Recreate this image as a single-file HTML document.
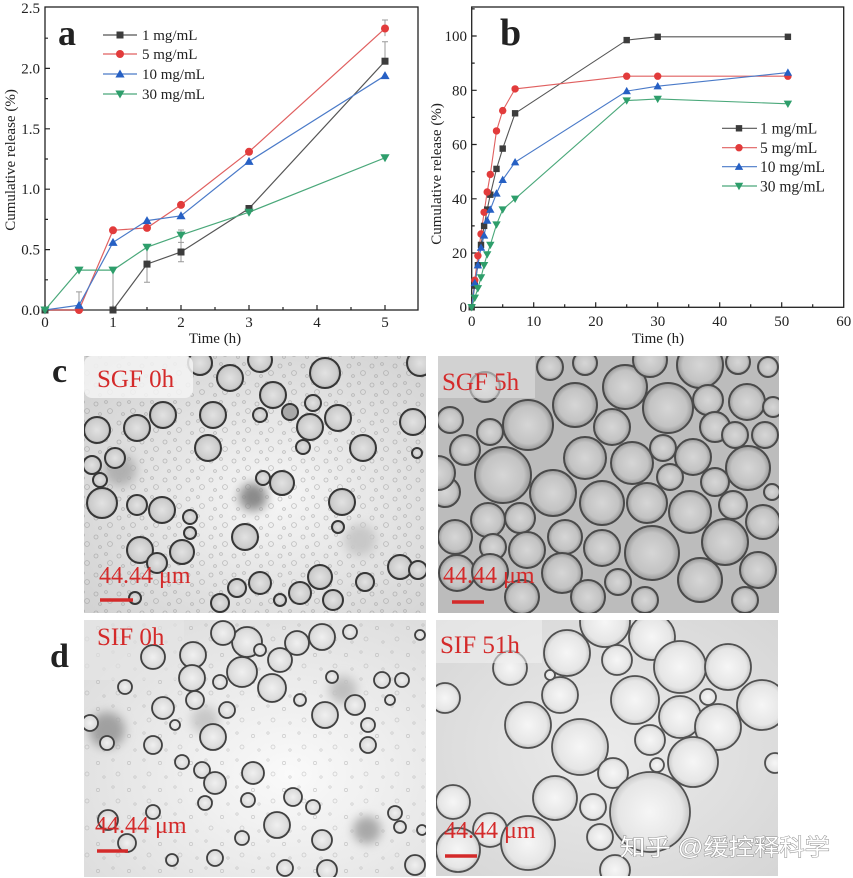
<!DOCTYPE html>
<html><head><meta charset="utf-8"><style>
html,body{margin:0;padding:0;background:#fff;}
svg{display:block;}
.t{font-family:"Liberation Serif",serif;fill:#222;}
.r{font-family:"Liberation Serif",serif;fill:#d42a2a;}
</style></head><body>
<svg width="853" height="878" viewBox="0 0 853 878" xmlns="http://www.w3.org/2000/svg">
<defs>
<rect id="sq" x="-3.5" y="-3.5" width="7" height="7"/>
<circle id="ci" r="4"/>
<path id="tu" d="M0,-4.5 L4.6,3.5 L-4.6,3.5Z"/>
<path id="td" d="M0,4.5 L4.6,-3.5 L-4.6,-3.5Z"/>
<rect id="sqs" x="-3.2" y="-3.2" width="6.4" height="6.4"/>
<circle id="cis" r="3.7"/>
<path id="tus" d="M0,-4.2 L4.2,3.2 L-4.2,3.2Z"/>
<path id="tds" d="M0,4.2 L4.2,-3.2 L-4.2,-3.2Z"/>
<clipPath id="cp1"><rect x="84" y="356" width="342" height="257"/></clipPath>
<clipPath id="cp2"><rect x="438" y="356" width="341" height="257"/></clipPath>
<clipPath id="cp3"><rect x="84" y="620" width="342" height="257"/></clipPath>
<clipPath id="cp4"><rect x="436" y="620" width="342" height="256"/></clipPath>
<radialGradient id="g1"><stop offset="0" stop-color="#e2e2e2"/><stop offset="0.8" stop-color="#cccccc"/><stop offset="1" stop-color="#b0b0b0"/></radialGradient>
<radialGradient id="g2"><stop offset="0" stop-color="#d6d6d6"/><stop offset="0.75" stop-color="#c3c3c3"/><stop offset="1" stop-color="#989898"/></radialGradient>
<radialGradient id="g3"><stop offset="0" stop-color="#f0f0f0"/><stop offset="0.8" stop-color="#dcdcdc"/><stop offset="1" stop-color="#c2c2c2"/></radialGradient>
<radialGradient id="g4"><stop offset="0" stop-color="#f6f6f6"/><stop offset="0.8" stop-color="#e6e6e6"/><stop offset="1" stop-color="#c6c6c6"/></radialGradient>
<radialGradient id="bg1" cx="0.55" cy="0.55" r="0.7"><stop offset="0" stop-color="#f6f6f6"/><stop offset="1" stop-color="#d2d2d2"/></radialGradient>
<radialGradient id="bg3" cx="0.6" cy="0.6" r="0.7"><stop offset="0" stop-color="#fafafa"/><stop offset="1" stop-color="#dedede"/></radialGradient>
<radialGradient id="bg4" cx="0.5" cy="0.5" r="0.7"><stop offset="0" stop-color="#ebebeb"/><stop offset="1" stop-color="#d6d6d6"/></radialGradient>
<pattern id="sp" width="23" height="19" patternUnits="userSpaceOnUse">
<g fill="none" stroke="#8a8a8a" stroke-width="0.8"><circle cx="4" cy="5" r="2"/><circle cx="14" cy="3" r="1.4"/><circle cx="18" cy="12" r="2.4"/><circle cx="8" cy="15" r="1.4"/></g>
</pattern>
<pattern id="sp2" width="31" height="27" patternUnits="userSpaceOnUse">
<g fill="none" stroke="#999" stroke-width="0.7"><circle cx="5" cy="7" r="1.6"/><circle cx="20" cy="4" r="1.2"/><circle cx="25" cy="18" r="2"/><circle cx="11" cy="21" r="1.2"/></g>
</pattern>
<filter id="bl" x="-50%" y="-50%" width="200%" height="200%"><feGaussianBlur stdDeviation="5"/></filter>
</defs>

<!-- ============ Chart a ============ -->
<rect x="45" y="7" width="373" height="303" fill="none" stroke="#222" stroke-width="1.3"/>
<path d="M45,310V305M113,310V305M181,310V305M249,310V305M317,310V305M385,310V305M79,310V307M147,310V307M215,310V307M283,310V307M351,310V307
M45,310H50M45,249.6H50M45,189.2H50M45,128.8H50M45,68.4H50M45,279.8H48M45,219.4H48M45,159H48M45,98.6H48M45,38.2H48" stroke="#222" stroke-width="1.2" fill="none"/>
<g class="t" font-size="15" text-anchor="end">
<text x="40" y="315">0.0</text><text x="40" y="254.6">0.5</text><text x="40" y="194.2">1.0</text><text x="40" y="133.8">1.5</text><text x="40" y="73.4">2.0</text><text x="40" y="13">2.5</text>
</g>
<g class="t" font-size="15" text-anchor="middle">
<text x="45" y="327">0</text><text x="113" y="327">1</text><text x="181" y="327">2</text><text x="249" y="327">3</text><text x="317" y="327">4</text><text x="385" y="327">5</text>
<text x="215" y="343">Time (h)</text>
<text transform="translate(15,160) rotate(-90)">Cumulative release (%)</text>
</g>
<text class="t" x="58" y="45" font-size="36" font-weight="bold" fill="#111">a</text>
<path d="M147,282.2V246M144,282.2H150M144,246H150 M181,261.7V242.4M178,261.7H184M178,242.4H184 M385,41.8V61M382,41.8H388 M385,36.1V20M382,20H388 M79,291.9V305M76,291.9H82 M113,310V270 M181,230V242M178,230H184" stroke="#999" stroke-width="1" fill="none"/>
<polyline points="45,310 79,310 113,310 147,264.1 181,252 249,208.5 385,61.2" fill="none" stroke="#555" stroke-width="1.2"/>
<polyline points="45,310 79,310 113,230.3 147,227.9 181,204.9 249,151.8 385,28.5" fill="none" stroke="#e06060" stroke-width="1.2"/>
<polyline points="45,310 79,305.2 113,242.4 147,220.6 181,215.8 249,161.4 385,75.6" fill="none" stroke="#4a7ac8" stroke-width="1.2"/>
<polyline points="45,310 79,270.1 113,270.1 147,247.2 181,235.1 249,212.2 385,157.8" fill="none" stroke="#4aa87a" stroke-width="1.2"/>
<g fill="#3c3c3c"><use href="#sq" x="45" y="310"/><use href="#sq" x="113" y="310"/><use href="#sq" x="147" y="264.1"/><use href="#sq" x="181" y="252"/><use href="#sq" x="249" y="208.5"/><use href="#sq" x="385" y="61.2"/></g>
<g fill="#e23b3b"><use href="#ci" x="79" y="310"/><use href="#ci" x="113" y="230.3"/><use href="#ci" x="147" y="227.9"/><use href="#ci" x="181" y="204.9"/><use href="#ci" x="249" y="151.8"/><use href="#ci" x="385" y="28.5"/></g>
<g fill="#2660c4"><use href="#tu" x="79" y="305.2"/><use href="#tu" x="113" y="242.4"/><use href="#tu" x="147" y="220.6"/><use href="#tu" x="181" y="215.8"/><use href="#tu" x="249" y="161.4"/><use href="#tu" x="385" y="75.6"/></g>
<g fill="#2e9e6b"><use href="#td" x="45" y="310"/><use href="#td" x="79" y="270.1"/><use href="#td" x="113" y="270.1"/><use href="#td" x="147" y="247.2"/><use href="#td" x="181" y="235.1"/><use href="#td" x="249" y="212.2"/><use href="#td" x="385" y="157.8"/></g>
<path d="M103,35H137" stroke="#555" stroke-width="1.2"/><use href="#sq" x="120" y="35" fill="#3c3c3c"/>
<path d="M103,54H137" stroke="#e06060" stroke-width="1.2"/><use href="#ci" x="120" y="54" fill="#e23b3b"/>
<path d="M103,74H137" stroke="#4a7ac8" stroke-width="1.2"/><use href="#tu" x="120" y="74" fill="#2660c4"/>
<path d="M103,94H137" stroke="#4aa87a" stroke-width="1.2"/><use href="#td" x="120" y="94" fill="#2e9e6b"/>
<g class="t" font-size="15"><text x="142" y="40">1 mg/mL</text><text x="142" y="59">5 mg/mL</text><text x="142" y="79">10 mg/mL</text><text x="142" y="99">30 mg/mL</text></g>

<!-- ============ Chart b ============ -->
<rect x="471.7" y="7" width="372" height="300.3" fill="none" stroke="#222" stroke-width="1.3"/>
<path d="M471.7,307.3V302.3M533.7,307.3V302.3M595.7,307.3V302.3M657.7,307.3V302.3M719.7,307.3V302.3M781.7,307.3V302.3M502.7,307.3V304.3M564.7,307.3V304.3M626.7,307.3V304.3M688.7,307.3V304.3M750.7,307.3V304.3M812.7,307.3V304.3
M471.7,253H476.7M471.7,198.8H476.7M471.7,144.5H476.7M471.7,90.3H476.7M471.7,36H476.7M471.7,280.2H474.7M471.7,225.9H474.7M471.7,171.7H474.7M471.7,117.4H474.7M471.7,63.1H474.7M471.7,8.9H474.7" stroke="#222" stroke-width="1.2" fill="none"/>
<g class="t" font-size="15" text-anchor="end">
<text x="467" y="312">0</text><text x="467" y="258">20</text><text x="467" y="203.8">40</text><text x="467" y="149.5">60</text><text x="467" y="95.3">80</text><text x="467" y="41">100</text>
</g>
<g class="t" font-size="15" text-anchor="middle">
<text x="471.7" y="326">0</text><text x="533.7" y="326">10</text><text x="595.7" y="326">20</text><text x="657.7" y="326">30</text><text x="719.7" y="326">40</text><text x="781.7" y="326">50</text><text x="843.7" y="326">60</text>
<text x="658" y="343">Time (h)</text>
<text transform="translate(441,174) rotate(-90)">Cumulative release (%)</text>
</g>
<text class="t" x="500" y="45" font-size="38" font-weight="bold" fill="#111">b</text>
<polyline points="471.7,307.3 474.8,285.6 477.9,265.2 481,244.9 484.1,225.9 487.2,209.6 490.3,194.7 496.5,168.9 502.7,148.6 515.1,113.3 626.7,40.1 657.7,36.8 787.9,36.8" fill="none" stroke="#555" stroke-width="1.1"/>
<polyline points="471.7,307.3 474.8,280.2 477.9,255.8 481,234 484.1,212.3 487.2,192 490.3,174.4 496.5,130.9 502.7,110.6 515.1,88.9 626.7,76.2 657.7,76.2 787.9,76.2" fill="none" stroke="#e06060" stroke-width="1.1"/>
<polyline points="471.7,307.3 474.8,282.9 477.9,265.2 481,247.6 484.1,235.4 487.2,220.5 490.3,209.6 496.5,193.4 502.7,179.8 515.1,162.2 626.7,91.1 657.7,86.2 787.9,72.6" fill="none" stroke="#4a7ac8" stroke-width="1.1"/>
<polyline points="471.7,307.3 474.8,297.8 477.9,288.3 481,277.5 484.1,265.2 487.2,254.4 490.3,244.9 496.5,224.6 502.7,209.6 515.1,198.8 626.7,100.6 657.7,98.9 787.9,103.8" fill="none" stroke="#4aa87a" stroke-width="1.1"/>
<g fill="#3c3c3c"><use href="#sqs" x="471.7" y="307.3"/><use href="#sqs" x="474.8" y="285.6"/><use href="#sqs" x="477.9" y="265.2"/><use href="#sqs" x="481" y="244.9"/><use href="#sqs" x="484.1" y="225.9"/><use href="#sqs" x="487.2" y="209.6"/><use href="#sqs" x="490.3" y="194.7"/><use href="#sqs" x="496.5" y="168.9"/><use href="#sqs" x="502.7" y="148.6"/><use href="#sqs" x="515.1" y="113.3"/><use href="#sqs" x="626.7" y="40.1"/><use href="#sqs" x="657.7" y="36.8"/><use href="#sqs" x="787.9" y="36.8"/></g>
<g fill="#e23b3b"><use href="#cis" x="474.8" y="280.2"/><use href="#cis" x="477.9" y="255.8"/><use href="#cis" x="481" y="234"/><use href="#cis" x="484.1" y="212.3"/><use href="#cis" x="487.2" y="192"/><use href="#cis" x="490.3" y="174.4"/><use href="#cis" x="496.5" y="130.9"/><use href="#cis" x="502.7" y="110.6"/><use href="#cis" x="515.1" y="88.9"/><use href="#cis" x="626.7" y="76.2"/><use href="#cis" x="657.7" y="76.2"/><use href="#cis" x="787.9" y="76.2"/></g>
<g fill="#2660c4"><use href="#tus" x="474.8" y="282.9"/><use href="#tus" x="477.9" y="265.2"/><use href="#tus" x="481" y="247.6"/><use href="#tus" x="484.1" y="235.4"/><use href="#tus" x="487.2" y="220.5"/><use href="#tus" x="490.3" y="209.6"/><use href="#tus" x="496.5" y="193.4"/><use href="#tus" x="502.7" y="179.8"/><use href="#tus" x="515.1" y="162.2"/><use href="#tus" x="626.7" y="91.1"/><use href="#tus" x="657.7" y="86.2"/><use href="#tus" x="787.9" y="72.6"/></g>
<g fill="#2e9e6b"><use href="#tds" x="471.7" y="307.3"/><use href="#tds" x="474.8" y="297.8"/><use href="#tds" x="477.9" y="288.3"/><use href="#tds" x="481" y="277.5"/><use href="#tds" x="484.1" y="265.2"/><use href="#tds" x="487.2" y="254.4"/><use href="#tds" x="490.3" y="244.9"/><use href="#tds" x="496.5" y="224.6"/><use href="#tds" x="502.7" y="209.6"/><use href="#tds" x="515.1" y="198.8"/><use href="#tds" x="626.7" y="100.6"/><use href="#tds" x="657.7" y="98.9"/><use href="#tds" x="787.9" y="103.8"/></g>
<path d="M722,128.3H757" stroke="#555" stroke-width="1.2"/><use href="#sqs" x="739" y="128.3" fill="#3c3c3c"/>
<path d="M722,147.7H757" stroke="#e06060" stroke-width="1.2"/><use href="#cis" x="739" y="147.7" fill="#e23b3b"/>
<path d="M722,166.7H757" stroke="#4a7ac8" stroke-width="1.2"/><use href="#tus" x="739" y="166.7" fill="#2660c4"/>
<path d="M722,186H757" stroke="#4aa87a" stroke-width="1.2"/><use href="#tds" x="739" y="186" fill="#2e9e6b"/>
<g class="t" font-size="15.5"><text x="760" y="133.5">1 mg/mL</text><text x="760" y="153">5 mg/mL</text><text x="760" y="172">10 mg/mL</text><text x="760" y="191.3">30 mg/mL</text></g>

<!-- ============ Panel c : SGF 0h ============ -->
<text class="t" x="52" y="382" font-size="34" font-weight="bold" fill="#111">c</text>
<g clip-path="url(#cp1)">
<rect x="84" y="356" width="342" height="257" fill="url(#bg1)"/>
<rect x="84" y="356" width="342" height="257" fill="url(#sp)" opacity="0.5"/>
<circle cx="253" cy="497" r="14" fill="#8a8a8a" filter="url(#bl)"/>
<circle cx="120" cy="470" r="16" fill="#b0b0b0" filter="url(#bl)"/>
<circle cx="360" cy="540" r="16" fill="#c8c8c8" filter="url(#bl)"/>
<g fill="url(#g1)" stroke="#363636" stroke-width="2">
<circle cx="97" cy="430" r="13"/><circle cx="92" cy="465" r="9"/><circle cx="115" cy="458" r="10"/><circle cx="137" cy="428" r="13"/><circle cx="163" cy="415" r="13"/><circle cx="102" cy="503" r="15"/><circle cx="100" cy="480" r="7"/><circle cx="137" cy="505" r="10"/><circle cx="162" cy="510" r="13"/><circle cx="190" cy="517" r="7"/><circle cx="190" cy="533" r="6"/><circle cx="140" cy="550" r="13"/><circle cx="182" cy="552" r="12"/><circle cx="157" cy="563" r="10"/><circle cx="245" cy="537" r="13"/><circle cx="208" cy="448" r="13"/><circle cx="213" cy="415" r="13"/><circle cx="230" cy="378" r="13"/><circle cx="273" cy="395" r="13"/><circle cx="260" cy="415" r="7"/><circle cx="290" cy="412" r="8" fill="#a8a8a8"/><circle cx="310" cy="427" r="13"/><circle cx="325" cy="373" r="15"/><circle cx="338" cy="418" r="13"/><circle cx="313" cy="403" r="8"/><circle cx="363" cy="448" r="13"/><circle cx="413" cy="422" r="13"/><circle cx="303" cy="447" r="7"/><circle cx="263" cy="478" r="7"/><circle cx="282" cy="483" r="12"/><circle cx="342" cy="502" r="13"/><circle cx="338" cy="527" r="6"/><circle cx="400" cy="567" r="12"/><circle cx="320" cy="577" r="12"/><circle cx="300" cy="593" r="11"/><circle cx="260" cy="583" r="11"/><circle cx="237" cy="588" r="9"/><circle cx="365" cy="582" r="9"/><circle cx="333" cy="600" r="10"/><circle cx="220" cy="603" r="9"/><circle cx="420" cy="363" r="13"/><circle cx="200" cy="363" r="12"/><circle cx="260" cy="360" r="12"/><circle cx="417" cy="453" r="5"/><circle cx="418" cy="570" r="9"/><circle cx="135" cy="598" r="6"/><circle cx="280" cy="600" r="6"/>
</g>
<rect x="84" y="356" width="109" height="42" rx="8" fill="#f4f4f4" opacity="0.85"/>
</g>
<text class="r" x="97" y="387" font-size="25">SGF 0h</text>
<text class="r" x="99" y="583" font-size="24">44.44 μm</text>
<path d="M100,600H133" stroke="#d42a2a" stroke-width="3.5"/>

<!-- ============ Panel SGF 5h ============ -->
<g clip-path="url(#cp2)">
<rect x="438" y="356" width="341" height="257" fill="#bcbcbc"/>
<g fill="url(#g2)" stroke="#4a4a4a" stroke-width="2">
<circle cx="528" cy="425" r="25"/><circle cx="503" cy="475" r="28"/><circle cx="575" cy="405" r="22"/><circle cx="625" cy="387" r="22"/><circle cx="668" cy="408" r="25"/><circle cx="700" cy="365" r="23"/><circle cx="612" cy="427" r="18"/><circle cx="585" cy="458" r="21"/><circle cx="632" cy="463" r="21"/><circle cx="663" cy="448" r="13"/><circle cx="693" cy="457" r="18"/><circle cx="748" cy="468" r="22"/><circle cx="747" cy="402" r="18"/><circle cx="708" cy="400" r="15"/><circle cx="715" cy="427" r="15"/><circle cx="735" cy="435" r="13"/><circle cx="765" cy="435" r="13"/><circle cx="465" cy="450" r="15"/><circle cx="490" cy="432" r="13"/><circle cx="450" cy="420" r="13"/><circle cx="445" cy="492" r="15"/><circle cx="553" cy="493" r="23"/><circle cx="602" cy="503" r="22"/><circle cx="647" cy="503" r="20"/><circle cx="690" cy="512" r="21"/><circle cx="733" cy="505" r="14"/><circle cx="763" cy="522" r="17"/><circle cx="715" cy="482" r="14"/><circle cx="670" cy="477" r="13"/><circle cx="488" cy="520" r="17"/><circle cx="520" cy="518" r="15"/><circle cx="565" cy="537" r="17"/><circle cx="602" cy="548" r="18"/><circle cx="652" cy="553" r="27"/><circle cx="725" cy="542" r="23"/><circle cx="455" cy="537" r="17"/><circle cx="493" cy="547" r="13"/><circle cx="527" cy="550" r="18"/><circle cx="562" cy="573" r="20"/><circle cx="457" cy="573" r="18"/><circle cx="490" cy="572" r="18"/><circle cx="758" cy="570" r="18"/><circle cx="700" cy="580" r="22"/><circle cx="618" cy="582" r="13"/><circle cx="588" cy="597" r="17"/><circle cx="645" cy="600" r="13"/><circle cx="522" cy="597" r="17"/><circle cx="745" cy="600" r="13"/><circle cx="550" cy="367" r="13"/><circle cx="585" cy="363" r="12"/><circle cx="650" cy="360" r="17"/><circle cx="738" cy="362" r="12"/><circle cx="768" cy="367" r="10"/><circle cx="773" cy="407" r="10"/><circle cx="485" cy="387" r="15"/><circle cx="438" cy="473" r="17"/><circle cx="772" cy="492" r="8"/>
</g>
<rect x="438" y="356" width="97" height="42" fill="#e4e4e4" opacity="0.55"/>
</g>
<text class="r" x="442" y="390" font-size="25">SGF 5h</text>
<text class="r" x="443" y="583" font-size="24">44.44 μm</text>
<path d="M452,602H484" stroke="#d42a2a" stroke-width="3.5"/>

<!-- ============ Panel d : SIF 0h ============ -->
<text class="t" x="50" y="667" font-size="34" font-weight="bold" fill="#111">d</text>
<g clip-path="url(#cp3)">
<rect x="84" y="620" width="342" height="257" fill="url(#bg3)"/>
<rect x="84" y="620" width="342" height="257" fill="url(#sp2)" opacity="0.45"/>
<circle cx="107" cy="730" r="18" fill="#a0a0a0" filter="url(#bl)"/>
<circle cx="367" cy="830" r="14" fill="#a8a8a8" filter="url(#bl)"/>
<circle cx="343" cy="690" r="14" fill="#c0c0c0" filter="url(#bl)"/>
<circle cx="205" cy="720" r="14" fill="#c8c8c8" filter="url(#bl)"/>
<rect x="84" y="620" width="100" height="60" fill="#e6e6e6" opacity="0.6"/>
<g fill="url(#g3)" stroke="#404040" stroke-width="1.8">
<circle cx="153" cy="657" r="12"/><circle cx="193" cy="655" r="13"/><circle cx="247" cy="642" r="15"/><circle cx="223" cy="633" r="12"/><circle cx="297" cy="643" r="12"/><circle cx="322" cy="637" r="13"/><circle cx="280" cy="660" r="12"/><circle cx="242" cy="672" r="15"/><circle cx="192" cy="678" r="13"/><circle cx="272" cy="688" r="14"/><circle cx="220" cy="682" r="7"/><circle cx="195" cy="700" r="9"/><circle cx="227" cy="710" r="8"/><circle cx="163" cy="708" r="11"/><circle cx="213" cy="737" r="13"/><circle cx="325" cy="715" r="13"/><circle cx="355" cy="705" r="10"/><circle cx="382" cy="680" r="8"/><circle cx="402" cy="680" r="7"/><circle cx="332" cy="677" r="6"/><circle cx="368" cy="725" r="7"/><circle cx="368" cy="745" r="8"/><circle cx="153" cy="745" r="9"/><circle cx="125" cy="687" r="7"/><circle cx="202" cy="770" r="8"/><circle cx="215" cy="783" r="11"/><circle cx="253" cy="773" r="11"/><circle cx="182" cy="762" r="7"/><circle cx="293" cy="797" r="9"/><circle cx="313" cy="807" r="7"/><circle cx="277" cy="825" r="13"/><circle cx="322" cy="840" r="10"/><circle cx="248" cy="800" r="7"/><circle cx="242" cy="838" r="7"/><circle cx="205" cy="803" r="7"/><circle cx="108" cy="820" r="10"/><circle cx="127" cy="843" r="9"/><circle cx="153" cy="812" r="7"/><circle cx="215" cy="858" r="8"/><circle cx="172" cy="860" r="6"/><circle cx="415" cy="865" r="10"/><circle cx="395" cy="813" r="7"/><circle cx="400" cy="827" r="6"/><circle cx="422" cy="830" r="5"/><circle cx="350" cy="632" r="7"/><circle cx="420" cy="635" r="5"/><circle cx="90" cy="723" r="8"/><circle cx="107" cy="743" r="7"/><circle cx="327" cy="870" r="10"/><circle cx="260" cy="650" r="6"/><circle cx="300" cy="700" r="6"/><circle cx="390" cy="700" r="5"/><circle cx="175" cy="725" r="5"/><circle cx="285" cy="868" r="8"/>
</g>
</g>
<text class="r" x="97" y="645" font-size="25">SIF 0h</text>
<text class="r" x="95" y="833" font-size="24">44.44 μm</text>
<path d="M97,851H128" stroke="#d42a2a" stroke-width="3.5"/>

<!-- ============ Panel SIF 51h ============ -->
<g clip-path="url(#cp4)">
<rect x="436" y="620" width="342" height="256" fill="url(#bg4)"/>
<g fill="url(#g4)" stroke="#505050" stroke-width="1.8">
<circle cx="605" cy="622" r="25"/><circle cx="652" cy="637" r="23"/><circle cx="567" cy="653" r="23"/><circle cx="617" cy="660" r="15"/><circle cx="680" cy="667" r="26"/><circle cx="728" cy="667" r="23"/><circle cx="762" cy="705" r="25"/><circle cx="510" cy="668" r="17"/><circle cx="560" cy="695" r="18"/><circle cx="635" cy="700" r="24"/><circle cx="680" cy="717" r="21"/><circle cx="708" cy="697" r="8"/><circle cx="718" cy="727" r="23"/><circle cx="528" cy="725" r="23"/><circle cx="580" cy="747" r="28"/><circle cx="650" cy="740" r="15"/><circle cx="693" cy="762" r="25"/><circle cx="445" cy="698" r="15"/><circle cx="613" cy="773" r="15"/><circle cx="657" cy="765" r="7"/><circle cx="555" cy="798" r="22"/><circle cx="650" cy="812" r="40"/><circle cx="593" cy="807" r="13"/><circle cx="453" cy="802" r="17"/><circle cx="490" cy="830" r="17"/><circle cx="528" cy="843" r="27"/><circle cx="600" cy="837" r="13"/><circle cx="775" cy="763" r="10"/><circle cx="458" cy="850" r="22"/><circle cx="550" cy="675" r="5"/><circle cx="615" cy="870" r="15"/>
</g>
<rect x="436" y="620" width="106" height="43" fill="#f0f0f0" opacity="0.55"/>
</g>
<text class="r" x="440" y="653" font-size="25">SIF 51h</text>
<text class="r" x="444" y="838" font-size="24">44.44 μm</text>
<path d="M445,856H477" stroke="#d42a2a" stroke-width="3.5"/>

<text x="620" y="855" font-size="23" textLength="210" lengthAdjust="spacingAndGlyphs" fill="#ffffff" stroke="#8a8a8a" stroke-width="0.9" paint-order="stroke" font-family="'Liberation Sans','Noto Sans CJK SC',sans-serif">知乎 @缓控释科学</text>
</svg>
</body></html>
